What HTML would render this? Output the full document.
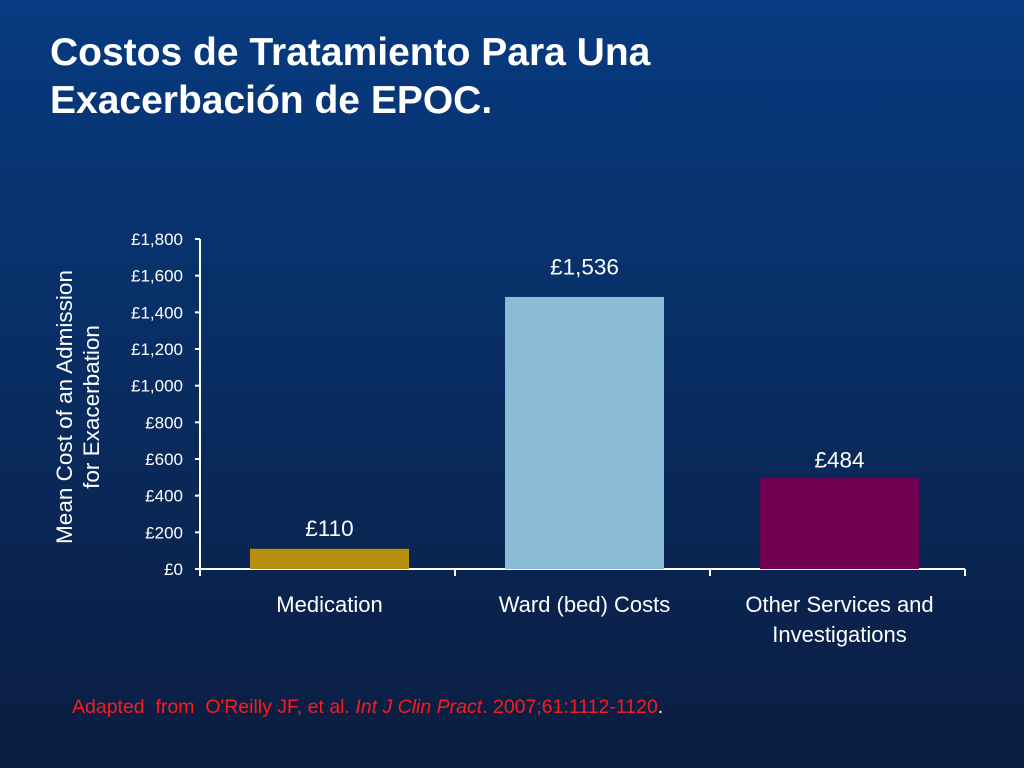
<!DOCTYPE html>
<html><head><meta charset="utf-8"><style>
html,body{margin:0;padding:0}
body{width:1024px;height:768px;overflow:hidden;background:linear-gradient(#073a80 0%,#083068 40%,#0a2450 75%,#0b1d40 100%);font-family:"Liberation Sans",sans-serif;position:relative}
h1{position:absolute;left:50px;top:29px;margin:0;color:#fff;font-size:39px;line-height:48px;font-weight:bold}
.src{position:absolute;left:72px;top:696px;font-size:19.5px;color:#ff1a1a}
</style></head><body>
<h1>Costos de Tratamiento Para Una<br>Exacerbación de EPOC.</h1>
<svg id="chart" width="1024" height="768" style="position:absolute;left:0;top:0" font-family="Liberation Sans, sans-serif"></svg>
<div class="src">Adapted&nbsp; from&nbsp; O'Reilly JF, et al. <i>Int J Clin Pract</i>. 2007;61:1112-1120<span style="color:#fff">.</span></div>
<script>
const categories=[["Medication"],["Ward (bed) Costs"],["Other Services and","Investigations"]];
const values=[110,1484,496];
const labelValues=[110,1536,484];
const ticks=[0,200,400,600,800,1000,1200,1400,1600,1800];
const tickLabels=["£0","£200","£400","£600","£800","£1,000","£1,200","£1,400","£1,600","£1,800"];
const colors=["#b8900f","#8bbcd6","#720050"];
const svg=document.getElementById('chart');const NS="http://www.w3.org/2000/svg";
const x0=200,x1=965,yBase=569,yTop=239,yMax=1800;
const y=v=>yBase-(v/yMax)*(yBase-yTop);
const band=(x1-x0)/categories.length;
const fmt=v=>"£"+v.toLocaleString("en-US");
function mk(t,a,p){const e=document.createElementNS(NS,t);for(const k in a)e.setAttribute(k,a[k]);(p||svg).appendChild(e);return e;}
let e=mk('line',{x1:x0,y1:yTop,x2:x0,y2:yBase,stroke:'#fff','stroke-width':2});


e=mk('line',{x1:x0,y1:yBase,x2:x1,y2:yBase,stroke:'#fff','stroke-width':2});


ticks.forEach((t,i)=>{
 e=mk('line',{x1:x0-5,y1:y(t),x2:x0,y2:y(t),stroke:'#fff','stroke-width':2});
 
 
 e=mk('text',{x:x0-17,y:y(t)+6,fill:'#fff','font-size':17,'text-anchor':'end'});
 e.textContent=tickLabels[i];
 
 
});
for(let i=0;i<=categories.length;i++){
 e=mk('line',{x1:x0+band*i,y1:yBase,x2:x0+band*i,y2:yBase+7,stroke:'#fff','stroke-width':2});
 
 
}
const bw=159;
values.forEach((v,i)=>{
 const cx=x0+band*(i+0.5)+2;
 e=mk('rect',{x:cx-bw/2,y:y(v),width:bw,height:yBase-y(v),fill:colors[i]});
 
 
 e=mk('text',{x:cx,y:y(labelValues[i])-13,fill:'#fff','font-size':22.5,'text-anchor':'middle'});
 e.textContent=fmt(labelValues[i]);
 
 
 categories[i].forEach((ln,j)=>{
  e=mk('text',{x:cx,y:612+j*30,fill:'#fff','font-size':22,'text-anchor':'middle'});
  e.textContent=ln;
  
  
 });
});
e=mk('text',{transform:'translate(72,407) rotate(-90)',fill:'#fff','font-size':22.5,'text-anchor':'middle'});


const t1=mk('tspan',{x:0,dy:0},e);t1.textContent='Mean Cost of an Admission';
const t2=mk('tspan',{x:0,dy:27},e);t2.textContent='for Exacerbation';
</script>
</body></html>
